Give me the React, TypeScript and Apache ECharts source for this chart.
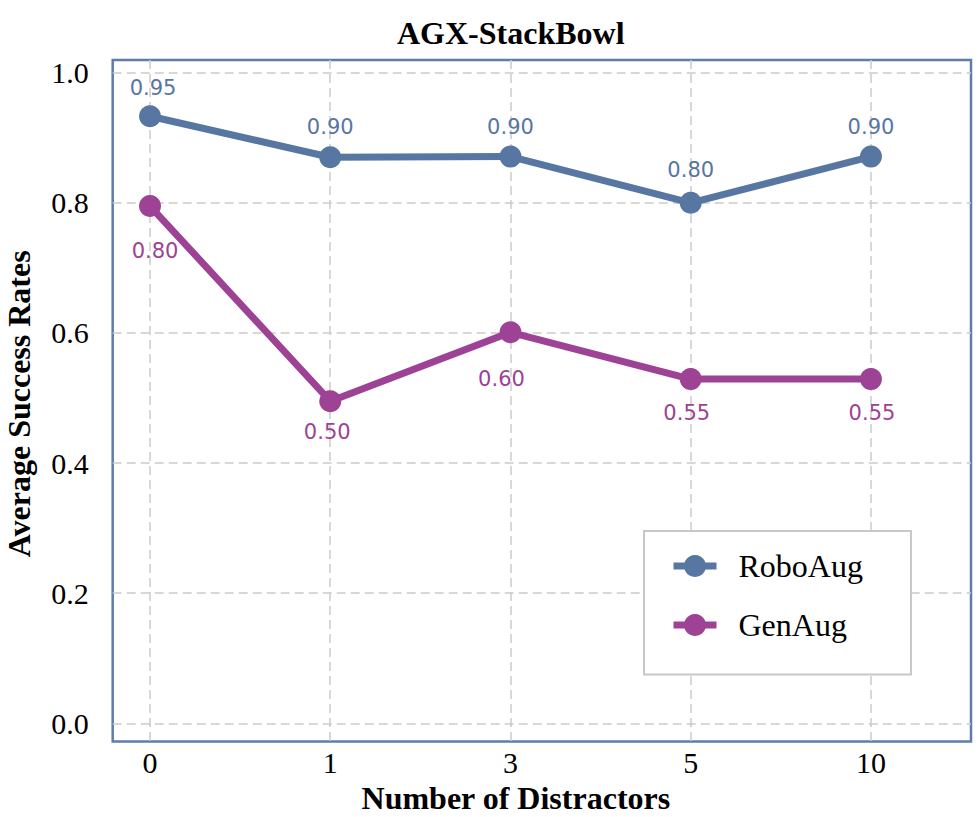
import React, { useEffect, useRef } from "react";
import * as echarts from "echarts";

// ---- data ----
const categories = ["0", "1", "3", "5", "10"];
const roboAugValues = [0.933, 0.87, 0.871, 0.8, 0.871];
const genAugValues = [0.795, 0.495, 0.601, 0.529, 0.529];
const roboAugLabels = ["0.95", "0.90", "0.90", "0.80", "0.90"];
const genAugLabels = ["0.80", "0.50", "0.60", "0.55", "0.55"];
const yTicks = [0, 0.2, 0.4, 0.6, 0.8, 1.0];
const seriesNames = ["RoboAug", "GenAug"];
const chartTitle = "AGX-StackBowl";
const xAxisTitle = "Number of Distractors";
const yAxisTitle = "Average Success Rates";

// ---- style config ----
const BLUE = "#5876a2";
const PURPLE = "#9d4294";
const FRAME = "#5f7cad";
const GRIDC = "#cccccc";
const SERIF = "'Liberation Serif', 'Times New Roman', serif";
const SANS = "'DejaVu Sans', Verdana, sans-serif";
const roboLabelGap = [7, 9, 8, 11, 8];
const roboLabelDx = [3, 0, 0, 0, 0];
const genLabelGap = [23, 9, 25, 12, 12];
const genLabelDx = [5, -3, -9, -4, 1];

export default function App() {
  const ref = useRef<HTMLDivElement>(null);

  useEffect(() => {
    if (!ref.current) return;
    const chart = echarts.init(ref.current, null, { renderer: "svg" });
    const xIdx = categories.map((_, i) => i);

    const makeSeries = (
      name: string,
      values: number[],
      labels: string[],
      color: string,
      pos: string,
      gaps: number[],
      dxs: number[]
    ) => ({
      name,
      type: "line",
      symbol: "circle",
      symbolSize: 22,
      lineStyle: { width: 7, color },
      itemStyle: { color },
      emphasis: { disabled: true },
      label: {
        show: true,
        position: pos,
        color,
        fontFamily: SANS,
        fontSize: 21,
        lineHeight: 21,
      },
      data: values.map((v, i) => ({
        value: [xIdx[i], v],
        label: { formatter: labels[i], distance: gaps[i], offset: [dxs[i], 0] },
      })),
    });

    chart.setOption({
      animation: false,
      title: {
        text: chartTitle,
        left: 397,
        top: 16.5,
        padding: 0,
        textStyle: { fontFamily: SERIF, fontSize: 32, fontWeight: "bold", color: "#000", lineHeight: 32 },
      },
      grid: {
        left: 112.7,
        top: 60,
        right: 9,
        bottom: 75.5,
        show: true,
        borderColor: FRAME,
        borderWidth: 2.5,
        backgroundColor: "transparent",
        containLabel: false,
        outerBoundsMode: "none",
      },
      legend: {
        orient: "vertical",
        left: 644,
        top: 531,
        itemWidth: 43,
        itemHeight: 27.5,
        itemGap: 27,
        padding: [19, 48, 33.6, 26],
        backgroundColor: "#ffffff",
        borderColor: "#c8c8c8",
        borderWidth: 2,
        data: seriesNames,
        selectedMode: false,
        lineStyle: { width: 7 },
        textStyle: { fontFamily: SERIF, fontSize: 32, color: "#000", padding: [0, 0, 0, 17] },
        z: 10,
      },
      xAxis: {
        type: "value",
        min: -0.207,
        max: 4.555,
        axisLine: { show: false },
        axisTick: {
          show: true,
          customValues: xIdx,
          length: 3,
          lineStyle: { color: GRIDC, width: 1.5 },
        },
        axisLabel: {
          customValues: xIdx,
          formatter: (v: number) => categories[Math.round(v)],
          margin: 6,
          fontFamily: SERIF,
          fontSize: 30,
          color: "#000",
        },
        splitLine: { show: true, lineStyle: { type: [9, 5], color: GRIDC, width: 1.5 } },
        name: xAxisTitle,
        nameLocation: "middle",
        nameGap: 23,
        nameTextStyle: {
          fontFamily: SERIF,
          fontSize: 32,
          fontWeight: "bold",
          color: "#000",
          lineHeight: 32,
          padding: [0, 52, 0, 0],
        },
      },
      yAxis: {
        type: "value",
        min: -0.028,
        max: 1.0195,
        axisLine: { show: false },
        axisTick: { show: false, customValues: yTicks },
        axisLabel: {
          customValues: yTicks,
          formatter: (v: number) => v.toFixed(1),
          margin: 24,
          fontFamily: SERIF,
          fontSize: 30,
          color: "#000",
        },
        splitLine: { show: true, lineStyle: { type: [9, 5], color: GRIDC, width: 1.5 } },
        name: yAxisTitle,
        nameLocation: "middle",
        nameGap: 78,
        nameTextStyle: {
          fontFamily: SERIF,
          fontSize: 32,
          fontWeight: "bold",
          color: "#000",
          lineHeight: 32,
          padding: [0, 6, 0, 0],
        },
      },
      series: [
        makeSeries(seriesNames[0], roboAugValues, roboAugLabels, BLUE, "top", roboLabelGap, roboLabelDx),
        makeSeries(seriesNames[1], genAugValues, genAugLabels, PURPLE, "bottom", genLabelGap, genLabelDx),
      ],
    });

    return () => chart.dispose();
  }, []);

  return (
    <div
      ref={ref}
      style={{ position: "fixed", left: 0, top: 0, width: 980, height: 817, background: "#fff" }}
    />
  );
}
